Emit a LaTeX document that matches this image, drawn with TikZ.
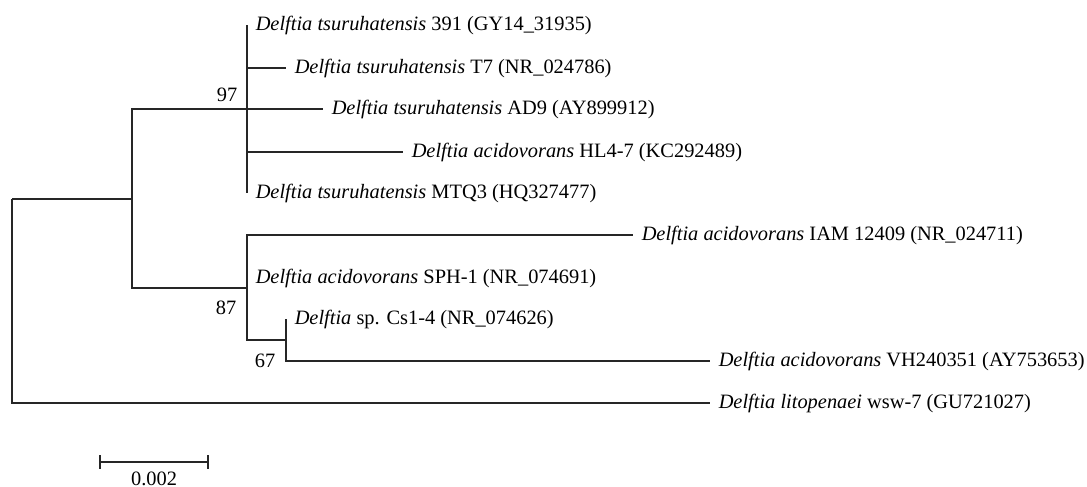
\documentclass[tikz,border=0pt]{standalone}
\usepackage{fontspec}
\setmainfont{Liberation Serif}
\usetikzlibrary{positioning}

\begin{document}
\begin{tikzpicture}[x=0.5pt, y=-0.5pt, line width=0.75pt,
	branch/.style={draw=black!85},
	leaf/.style={anchor=west, inner xsep=4pt, inner ysep=0pt, font=\fontsize{10.2}{12}\selectfont, text height=0.75em, text depth=0.25em},
	boot/.style={inner sep=0pt, font=\fontsize{10.2}{12}\selectfont}]
	\useasboundingbox (0,0) rectangle (1087,487);
	
	% 1. 内部节点
	\coordinate (root) at (12,199);
	\coordinate (nA) at (132,199);
	\coordinate (n97) at (247,109);
	\coordinate (n87) at (247,288);
	\coordinate (n67) at (286,340);
	
	% 2. 叶节点 (物种名)
	\node[leaf] (t391) at (247,25) {\textit{Delftia tsuruhatensis} 391 (GY14\_31935)};
	\node[leaf] (tT7) at (286,68) {\textit{Delftia tsuruhatensis} T7 (NR\_024786)};
	\node[leaf] (tAD9) at (323,109) {\textit{Delftia tsuruhatensis} AD9 (AY899912)};
	\node[leaf] (tHL) at (403,152) {\textit{Delftia acidovorans} HL4-7 (KC292489)};
	\node[leaf] (tMTQ) at (247,193) {\textit{Delftia tsuruhatensis} MTQ3 (HQ327477)};
	\node[leaf] (tIAM) at (633,235) {\textit{Delftia acidovorans} IAM 12409 (NR\_024711)};
	\node[leaf] (tSPH) at (247,278) {\textit{Delftia acidovorans} SPH-1 (NR\_074691)};
	\node[leaf] (tCs) at (286,319) {\textit{Delftia} sp. Cs1-4 (NR\_074626)};
	\node[leaf] (tVH) at (710,361) {\textit{Delftia acidovorans} VH240351 (AY753653)};
	\node[leaf] (tLit) at (710,403) {\textit{Delftia litopenaei} wsw-7 (GU721027)};
	
	% 3. 分支
	\draw[branch] (root) |- (nA);
	\draw[branch] (root) |- (tLit);
	\draw[branch] (nA) |- (n97);
	\draw[branch] (nA) |- (n87);
	\foreach \t in {t391, tT7, tAD9, tHL, tMTQ}
		\draw[branch] (n97) |- (\t);
	\draw[branch] (n87) |- (tIAM);
	\draw[branch] (n87) |- (tSPH);
	\draw[branch] (n87) |- (n67);
	\draw[branch] (n67) |- (tCs);
	\draw[branch] (n67) |- (tVH);
	
	% 4. 自展值
	\node[boot, above left=3.5pt and 4.5pt of n97] (b97) {97};
	\node[boot, below left=6pt and 5pt of n87] (b87) {87};
	\node[boot, below left=6.5pt and 5pt of n67] (b67) {67};
	
	% 5. 标尺
	\coordinate (sL) at (100,462);
	\coordinate (sR) at (208,462);
	\draw[branch] (sL) -- (sR);
	\draw[branch] ([yshift=3.5pt]sL) -- ([yshift=-3.5pt]sL);
	\draw[branch] ([yshift=3.5pt]sR) -- ([yshift=-3.5pt]sR);
	\node[boot, anchor=north] (sc) at (154,471) {0.002};
	
\end{tikzpicture}
\end{document}
